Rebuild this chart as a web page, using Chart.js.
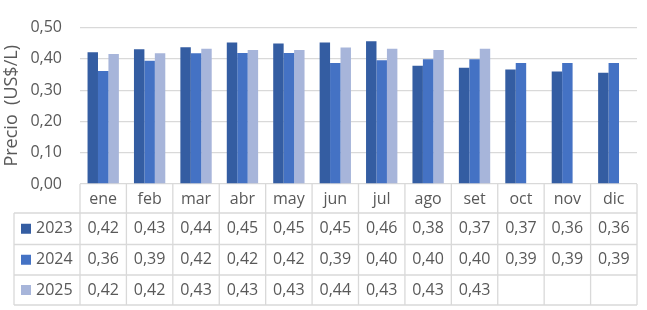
<!DOCTYPE html>
<html>
<head>
<meta charset="utf-8">
<script src="https://cdn.jsdelivr.net/npm/chart.js@4.4.1/dist/chart.umd.min.js"></script>
<style>
  html, body { margin: 0; padding: 0; background: #fff; }
</style>
</head>
<body>
<canvas id="chart" width="647" height="310"></canvas>
<script>
const months = ["ene", "feb", "mar", "abr", "may", "jun", "jul", "ago", "set", "oct", "nov", "dic"];
const years = ["2023", "2024", "2025"];
const price2023 = [0.421, 0.431, 0.437, 0.452, 0.449, 0.452, 0.456, 0.378, 0.372, 0.366, 0.360, 0.356];
const price2024 = [0.361, 0.394, 0.418, 0.419, 0.419, 0.387, 0.396, 0.399, 0.399, 0.387, 0.387, 0.387];
const price2025 = [0.416, 0.418, 0.432, 0.428, 0.428, 0.436, 0.432, 0.428, 0.432, null, null, null];
const yTicks = [0, 0.1, 0.2, 0.3, 0.4, 0.5];

const colors = ["#345da2", "#4472c4", "#a7b5da"];
const textColor = "#595959";
const lineColor = "#d9d9d9";
const fontFamily = "'Open Sans', sans-serif";

Chart.defaults.font.family = fontFamily;
Chart.defaults.font.size = 16;
Chart.defaults.color = textColor;

const fmt = v => v.toFixed(2).replace(".", ",");

// table drawn under the plot, columns follow the x scale
const tablePlugin = {
    id: "dataTable",
    afterDraw(chart) {
        const ctx = chart.ctx;
        const area = chart.chartArea;
        const x = chart.scales.x;
        const half = (x.getPixelForValue(1) - x.getPixelForValue(0)) / 2;
        const tableLeft = 14;
        const lines = [213, 244.5, 275, 305]; // header bottom + series rows
        const series = [price2023, price2024, price2025];

        ctx.save();
        ctx.strokeStyle = lineColor;
        ctx.lineWidth = 1.3;
        ctx.beginPath();
        lines.forEach(y => {
            ctx.moveTo(tableLeft, y);
            ctx.lineTo(area.right, y);
        });
        for (let i = 0; i <= months.length; i++) {
            const xb = x.getPixelForValue(Math.min(i, months.length - 1)) + (i === months.length ? half : -half);
            ctx.moveTo(xb, area.bottom);
            ctx.lineTo(xb, lines[lines.length - 1]);
        }
        ctx.moveTo(tableLeft, lines[0]);
        ctx.lineTo(tableLeft, lines[lines.length - 1]);
        ctx.stroke();

        ctx.font = "16px " + fontFamily;
        ctx.textBaseline = "middle";
        series.forEach((data, r) => {
            const cy = (lines[r] + lines[r + 1]) / 2;
            ctx.fillStyle = colors[r];
            ctx.fillRect(21, cy - 5, 10, 10);
            ctx.fillStyle = textColor;
            ctx.textAlign = "left";
            ctx.fillText(years[r], 36, cy);
            ctx.textAlign = "center";
            data.forEach((v, i) => {
                if (v === null) return;
                ctx.fillText(fmt(v), x.getPixelForValue(i), cy);
            });
        });
        ctx.restore();
    }
};

new Chart(document.getElementById("chart"), {
    type: "bar",
    data: {
        labels: months,
        datasets: [
            { label: years[0], data: price2023, backgroundColor: colors[0] },
            { label: years[1], data: price2024, backgroundColor: colors[1] },
            { label: years[2], data: price2025, backgroundColor: colors[2] }
        ]
    },
    options: {
        responsive: false,
        animation: false,
        datasets: { bar: { barPercentage: 1, categoryPercentage: 0.675 } },
        layout: { padding: { top: 16, right: 10, left: 0, bottom: 0 } },
        plugins: { legend: { display: false }, tooltip: { enabled: false } },
        scales: {
            x: {
                grid: { display: false, drawTicks: false },
                border: { display: false },
                ticks: { padding: 6, maxRotation: 0, autoSkip: false },
                afterFit: s => { s.height = 126; }
            },
            y: {
                min: 0,
                max: 0.5,
                afterBuildTicks: s => { s.ticks = yTicks.map(v => ({ value: v })); },
                ticks: { padding: 18, callback: v => fmt(v) },
                grid: { color: lineColor, lineWidth: 1.3, drawTicks: false },
                border: { display: false },
                title: { display: true, text: "Precio  (US$/L)", font: { size: 18 }, padding: { top: 1, bottom: 0 } },
                afterFit: s => { s.width = 80; }
            }
        }
    },
    plugins: [tablePlugin]
});
</script>
</body>
</html>
